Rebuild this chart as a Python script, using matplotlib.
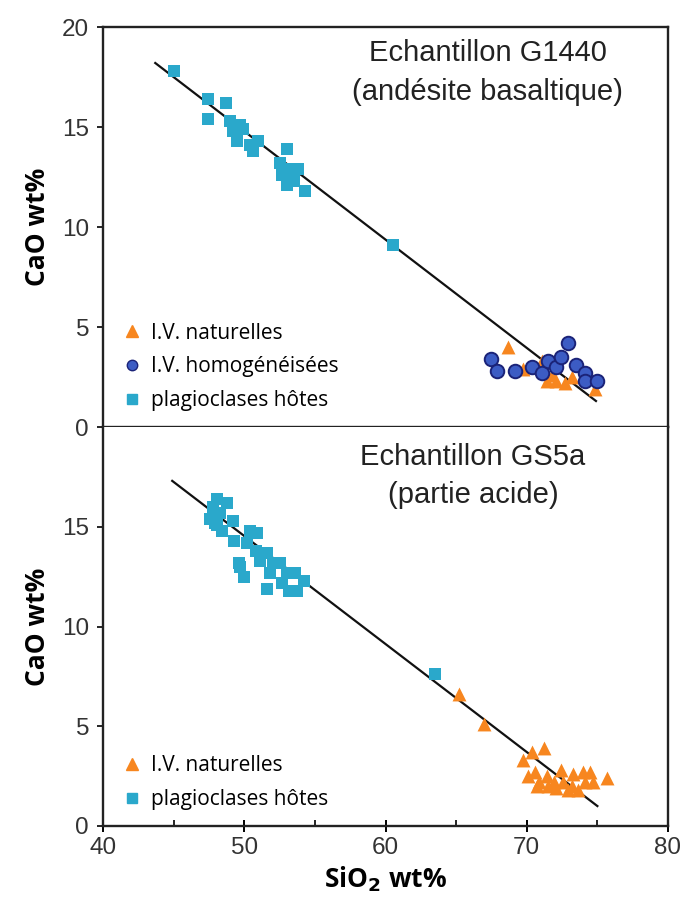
import matplotlib
matplotlib.use("Agg")
import matplotlib.pyplot as plt
from matplotlib.lines import Line2D

# ---------------- data ----------------
# Top panel: Echantillon G1440
top_plag_x = [45.0, 47.4, 48.7, 47.4, 49.0, 49.7, 49.2, 49.9, 49.5, 51.0, 50.6, 50.4,
              53.0, 52.5, 53.0, 53.8, 52.7, 53.0, 53.5, 54.3, 60.5]
top_plag_y = [17.8, 16.4, 16.2, 15.4, 15.3, 15.1, 14.8, 14.9, 14.3, 14.3, 13.8, 14.1,
              13.9, 13.2, 12.9, 12.9, 12.6, 12.1, 12.3, 11.8, 9.1]
top_nat_x = [68.7, 69.7, 71.1, 71.4, 72.1, 72.7, 73.2, 74.8, 70.6, 71.8]
top_nat_y = [4.0, 2.9, 3.3, 2.3, 2.3, 2.2, 2.5, 1.9, 3.0, 2.6]
top_hom_x = [67.5, 67.9, 69.2, 70.4, 71.1, 71.5, 72.1, 72.4, 72.9, 73.5, 74.1, 74.1, 75.0]
top_hom_y = [3.4, 2.8, 2.8, 3.0, 2.7, 3.3, 3.0, 3.5, 4.2, 3.1, 2.7, 2.3, 2.3]
top_trend_x = [43.7, 74.9]
top_trend_y = [18.2, 1.3]

# Bottom panel: Echantillon GS5a
bot_plag_x = [48.1, 48.8, 47.8, 48.3, 49.2, 48.1, 48.4, 50.4, 50.9, 49.3, 50.2, 50.8,
              51.6, 51.1, 49.7, 50.0, 52.0, 52.5, 51.8, 53.0, 53.6, 52.7, 53.2, 54.2,
              53.7, 51.6, 49.6, 47.6, 47.9, 63.5]
bot_plag_y = [16.4, 16.2, 16.0, 15.7, 15.3, 15.1, 14.8, 14.8, 14.7, 14.3, 14.2, 13.8,
              13.7, 13.3, 13.0, 12.5, 13.2, 13.2, 12.7, 12.7, 12.7, 12.2, 11.8, 12.3,
              11.8, 11.9, 13.2, 15.4, 15.2, 7.6]
bot_nat_x = [65.2, 67.0, 69.7, 70.4, 71.2, 70.1, 70.6, 70.9, 71.4, 71.9, 72.4, 72.6,
             73.2, 73.3, 74.0, 74.5, 74.7, 74.1, 75.7, 70.7, 72.1, 73.6, 72.9, 71.5]
bot_nat_y = [6.6, 5.1, 3.3, 3.7, 3.9, 2.5, 2.7, 2.2, 2.5, 2.2, 2.8, 2.2,
             2.0, 2.6, 2.7, 2.7, 2.2, 2.2, 2.4, 2.0, 1.9, 1.8, 1.8, 2.0]
bot_trend_x = [44.9, 75.0]
bot_trend_y = [17.3, 1.0]

x_ticks = [40, 50, 60, 70, 80]
x_minor = [45, 55, 65, 75]
top_yticks = [0, 5, 10, 15, 20]
bot_yticks = [0, 5, 10, 15]

lab_nat = "I.V. naturelles"
lab_hom = "I.V. homogénéisées"
lab_plag = "plagioclases hôtes"

# ---------------- style ----------------
C_NAT = "#F7861F"
C_HOM = "#3C5CC4"
C_HOM_EDGE = "#1B2378"
C_PLAG = "#2AA8CB"
TICK_FONT = ["Liberation Sans", "DejaVu Sans"]
LAB_FONT = ["Open Sans", "DejaVu Sans"]

fig = plt.figure(figsize=(6.87, 9.10), dpi=100)
W, H = 687, 910
left, right = 103, 668
ax_top = fig.add_axes([left / W, (H - 427) / H, (right - left) / W, 400 / H])
ax_bot = fig.add_axes([left / W, (H - 826) / H, (right - left) / W, 399 / H])


def style_axes(ax, yticks, show_x):
    ax.set_xlim(40, 80)
    ax.set_ylim(0, 20)
    ax.set_yticks(yticks)
    ax.set_xticks(x_ticks)
    ax.set_xticks(x_minor, minor=True)
    for s in ax.spines.values():
        s.set_linewidth(1.7)
        s.set_color("#222222")
    ax.tick_params(axis="y", direction="out", length=4, width=1.2, labelsize=17.5,
                   labelcolor="#333333", pad=6)
    ax.tick_params(axis="x", which="major", direction="inout", length=8, width=1.4,
                   labelsize=17.5, labelcolor="#333333", pad=4)
    ax.tick_params(axis="x", which="minor", direction="in", length=4, width=1.2)
    for lab in ax.get_yticklabels() + ax.get_xticklabels():
        lab.set_family(TICK_FONT)
    if not show_x:
        ax.tick_params(axis="x", which="both", labelbottom=False, length=0)
    ax.set_ylabel("CaO wt%", fontsize=19, fontweight="bold", family=LAB_FONT,
                  labelpad=8)


# top panel
ax_top.plot(top_trend_x, top_trend_y, color="#111111", lw=1.6, zorder=2)
ax_top.scatter(top_plag_x, top_plag_y, marker="s", s=85, color=C_PLAG, zorder=3,
               linewidths=0)
ax_top.scatter(top_nat_x, top_nat_y, marker="^", s=100, color=C_NAT, zorder=3,
               linewidths=0)
ax_top.scatter(top_hom_x, top_hom_y, marker="o", s=95, color=C_HOM,
               edgecolors=C_HOM_EDGE, linewidths=1.4, zorder=4)
style_axes(ax_top, top_yticks, show_x=False)
ax_top.text(0.681, 0.935, "Echantillon G1440", transform=ax_top.transAxes,
            ha="center", va="center", fontsize=21, family=TICK_FONT, color="#222222")
ax_top.text(0.681, 0.838, "(andésite basaltique)", transform=ax_top.transAxes,
            ha="center", va="center", fontsize=21, family=TICK_FONT, color="#222222")

h_nat = Line2D([], [], marker="^", ls="none", color=C_NAT, markersize=9)
h_hom = Line2D([], [], marker="o", ls="none", color=C_HOM, markeredgecolor=C_HOM_EDGE,
               markersize=7.5)
h_plag = Line2D([], [], marker="s", ls="none", color=C_PLAG, markersize=7.5)
leg_kw = dict(loc="lower left", frameon=False, handletextpad=0.25, borderaxespad=0.35,
              labelspacing=0.62, handlelength=1.3, borderpad=0.4,
              prop={"family": LAB_FONT, "size": 15})
ax_top.legend([h_nat, h_hom, h_plag], [lab_nat, lab_hom, lab_plag], **leg_kw)

# bottom panel
ax_bot.plot(bot_trend_x, bot_trend_y, color="#111111", lw=1.6, zorder=2)
ax_bot.scatter(bot_plag_x, bot_plag_y, marker="s", s=85, color=C_PLAG, zorder=3,
               linewidths=0)
ax_bot.scatter(bot_nat_x, bot_nat_y, marker="^", s=100, color=C_NAT, zorder=3,
               linewidths=0)
style_axes(ax_bot, bot_yticks, show_x=True)
ax_bot.spines["top"].set_visible(False)
ax_bot.text(0.655, 0.925, "Echantillon GS5a", transform=ax_bot.transAxes,
            ha="center", va="center", fontsize=21, family=TICK_FONT, color="#222222")
ax_bot.text(0.655, 0.83, "(partie acide)", transform=ax_bot.transAxes,
            ha="center", va="center", fontsize=21, family=TICK_FONT, color="#222222")
ax_bot.legend([h_nat, h_plag], [lab_nat, lab_plag], **leg_kw)
ax_bot.set_xlabel("SiO$_\\mathbf{2}$ wt%", fontsize=19, fontweight="bold",
                  family=LAB_FONT, labelpad=4)

fig.savefig("out.png", dpi=100)
